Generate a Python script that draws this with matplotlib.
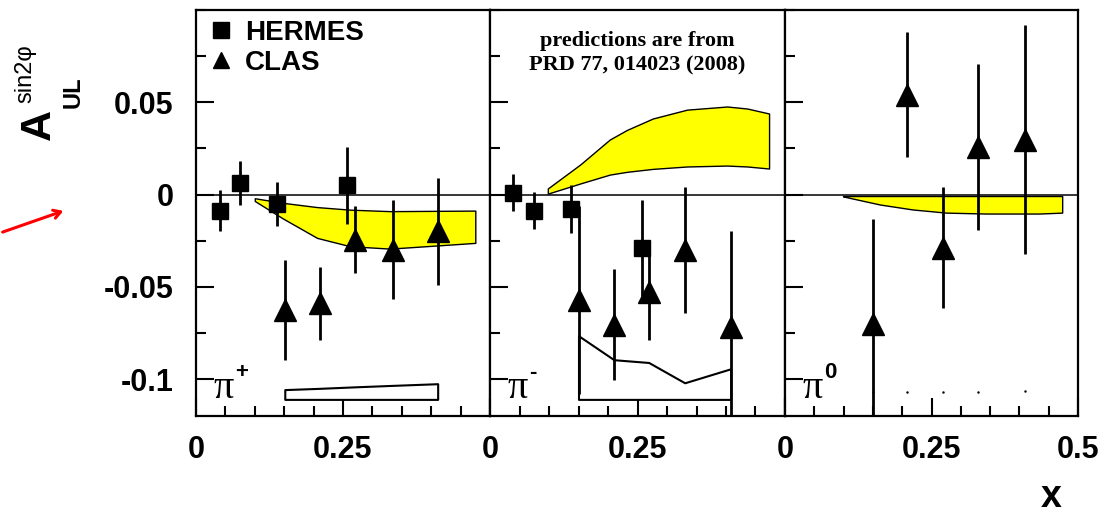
import numpy as np
import matplotlib
matplotlib.use("Agg")
import matplotlib.pyplot as plt
from matplotlib.ticker import MultipleLocator
from matplotlib.lines import Line2D

# ---- data ----
# pi+ panel
herm_pp_x = [0.041, 0.075, 0.138, 0.257]
herm_pp_y = [-0.0087, 0.0062, -0.0050, 0.0050]
herm_pp_e = [0.0112, 0.0120, 0.0120, 0.0210]
clas_pp_x = [0.151, 0.211, 0.270, 0.335, 0.411]
clas_pp_y = [-0.0624, -0.0590, -0.0244, -0.0298, -0.0200]
clas_pp_e = [0.027, 0.020, 0.018, 0.027, 0.029]
band_pp_x = [0.100, 0.148, 0.206, 0.262, 0.330, 0.475]
band_pp_hi = [-0.0020, -0.0045, -0.0068, -0.0082, -0.0090, -0.0087]
band_pp_lo = [-0.0035, -0.0130, -0.0235, -0.0280, -0.0293, -0.0262]
sys_pp_top = [-0.1057, -0.1050, -0.1042, -0.1034, -0.1025]

# pi- panel
herm_pm_x = [0.039, 0.075, 0.137, 0.258]
herm_pm_y = [0.0010, -0.0087, -0.0076, -0.0290]
herm_pm_e = [0.010, 0.010, 0.013, 0.026]
clas_pm_x = [0.150, 0.210, 0.269, 0.330, 0.408]
clas_pm_y = [-0.0570, -0.0705, -0.0530, -0.0301, -0.0720]
clas_pm_e = [0.051, 0.030, 0.026, 0.034, 0.052]
band_pm_x = [0.098, 0.153, 0.203, 0.232, 0.276, 0.334, 0.402, 0.436, 0.473]
band_pm_hi = [0.0033, 0.0163, 0.0298, 0.0350, 0.0412, 0.0460, 0.0477, 0.0466, 0.0439]
band_pm_lo = [0.0005, 0.0060, 0.0108, 0.0123, 0.0139, 0.0152, 0.0157, 0.0152, 0.0141]
sys_pm_top = [-0.0765, -0.0895, -0.0910, -0.1020, -0.0944]

# pi0 panel
clas_p0_x = [0.150, 0.209, 0.269, 0.330, 0.410]
clas_p0_y = [-0.0700, 0.0542, -0.0287, 0.0260, 0.0298]
clas_p0_e = [0.057, 0.034, 0.033, 0.045, 0.062]
band_p0_x = [0.099, 0.162, 0.218, 0.275, 0.343, 0.434, 0.473]
band_p0_hi = [-0.0008, -0.0008, -0.0008, -0.0008, -0.0008, -0.0008, -0.0008]
band_p0_lo = [-0.0010, -0.0054, -0.0081, -0.0098, -0.0103, -0.0103, -0.0098]
sys_p0_y = [-0.1068, -0.1068, -0.1072, -0.1068, -0.1065]

sys_base = -0.111
xtick_vals = [0, 0.25, 0.5]
ytick_vals = [0.05, 0, -0.05, -0.1]
ytick_text = ["0.05", "0", "-0.05", "-0.1"]

SANS = "Liberation Sans"
SERIF = "Liberation Serif"

fig = plt.figure(figsize=(11.05, 5.2), dpi=100)
lefts = [196 / 1105, 490 / 1105, 785 / 1105]
widths = [294 / 1105, 295 / 1105, 293 / 1105]
bottom, height = 0.2, 0.7808
axes = [fig.add_axes([l, bottom, w, height]) for l, w in zip(lefts, widths)]

for i, ax in enumerate(axes):
    ax.set_xlim(0, 0.5)
    ax.set_ylim(-0.12, 0.1)
    ax.axhline(0, color="black", lw=1.1, zorder=1)
    ax.xaxis.set_major_locator(MultipleLocator(0.25))
    ax.xaxis.set_minor_locator(MultipleLocator(0.05))
    ax.yaxis.set_major_locator(MultipleLocator(0.05))
    ax.yaxis.set_minor_locator(MultipleLocator(0.025))
    ax.tick_params(which="both", direction="in", top=False, right=False, width=1.5)
    ax.tick_params(which="major", length=13)
    ax.tick_params(which="minor", length=7)
    ax.tick_params(axis="x", pad=14)
    ax.tick_params(axis="y", pad=16)
    for s in ax.spines.values():
        s.set_linewidth(1.6)
    labs = ["0", "0.25", "0.5"] if i == 2 else ["0", "0.25", ""]
    ax.set_xticks(xtick_vals)
    ax.set_xticklabels(labs, fontfamily=SANS, fontweight="bold", fontsize=22)
    ax.set_yticks(ytick_vals)
    if i == 0:
        ax.set_yticklabels(ytick_text, fontfamily=SANS, fontweight="bold", fontsize=22)
    else:
        ax.set_yticklabels([])

ax1, ax2, ax3 = axes
band_kw = dict(facecolor="#ffff00", edgecolor="black", lw=1.0, zorder=2)
sys_kw = dict(facecolor="white", edgecolor="black", lw=1.5, zorder=2)
sq_kw = dict(fmt="s", color="black", ms=12, elinewidth=2.0, capsize=0, zorder=4)
tri_kw = dict(fmt="^", color="black", ms=16, elinewidth=2.0, capsize=0, zorder=4)

# pi+
ax1.fill_between(band_pp_x, band_pp_lo, band_pp_hi, **band_kw)
ax1.fill_between(clas_pp_x, sys_base, sys_pp_top, **sys_kw)
ax1.errorbar(herm_pp_x, herm_pp_y, yerr=herm_pp_e, **sq_kw)
ax1.errorbar(clas_pp_x, clas_pp_y, yerr=clas_pp_e, **tri_kw)

# pi-
ax2.fill_between(band_pm_x, band_pm_lo, band_pm_hi, **band_kw)
ax2.fill_between(clas_pm_x, sys_base, sys_pm_top, **sys_kw)
ax2.errorbar(herm_pm_x, herm_pm_y, yerr=herm_pm_e, **sq_kw)
ax2.errorbar(clas_pm_x, clas_pm_y, yerr=clas_pm_e, **tri_kw)

# pi0
ax3.fill_between(band_p0_x, band_p0_lo, band_p0_hi, **band_kw)
ax3.plot(clas_p0_x, sys_p0_y, ls="", marker=".", ms=1.5, color="black", zorder=2)
ax3.errorbar(clas_p0_x, clas_p0_y, yerr=clas_p0_e, **tri_kw)

# pion labels
for ax, sup in zip(axes, ["+", "-", "0"]):
    ax.text(0.029, -0.1105, "\u03c0", fontfamily=SERIF, fontsize=29, ha="left", va="baseline", zorder=5)
    ax.text(0.066, -0.0995, sup, fontfamily=SANS, fontweight="bold", fontsize=16, ha="left", va="baseline", zorder=5)

# legend
handles = [Line2D([], [], marker="s", ls="", color="black", ms=12),
           Line2D([], [], marker="^", ls="", color="black", ms=12)]
leg = ax1.legend(handles, ["HERMES", "CLAS"], loc="upper left", frameon=False,
                 bbox_to_anchor=(0.03, 0.99),
                 prop={"family": SANS, "weight": "bold", "size": 20},
                 handlelength=0.8, handletextpad=0.45, labelspacing=0.15,
                 borderaxespad=0.0, borderpad=0.2)

ax2.text(0.5, 0.948, "predictions are from\nPRD 77, 014023 (2008)", transform=ax2.transAxes,
         fontfamily=SERIF, fontweight="bold", fontsize=16, ha="center", va="top",
         linespacing=1.3)

# y label
fig.text(39 / 1105, 1 - 125 / 520, "A", rotation=90, fontfamily=SANS, fontweight="bold",
         fontsize=31, ha="center", va="center")
fig.text(25 / 1105, 1 - 74 / 520, "sin2\u03c6", rotation=90, fontfamily=SANS,
         fontsize=17, ha="center", va="center")
fig.text(73 / 1105, 1 - 92 / 520, "UL", rotation=90, fontfamily=SANS, fontweight="bold",
         fontsize=17, ha="center", va="center")

# x label
fig.text(1051 / 1105, 1 - 497 / 520, "x", fontfamily=SANS, fontweight="bold",
         fontsize=27, ha="center", va="center")

# red arrow
fig.add_artist(matplotlib.patches.FancyArrowPatch(
    (0 / 1105, 1 - 233 / 520), (66 / 1105, 1 - 210 / 520), transform=fig.transFigure,
    arrowstyle="->,head_length=5,head_width=3", color="red", lw=2.2))

fig.savefig("out.png", dpi=100)
